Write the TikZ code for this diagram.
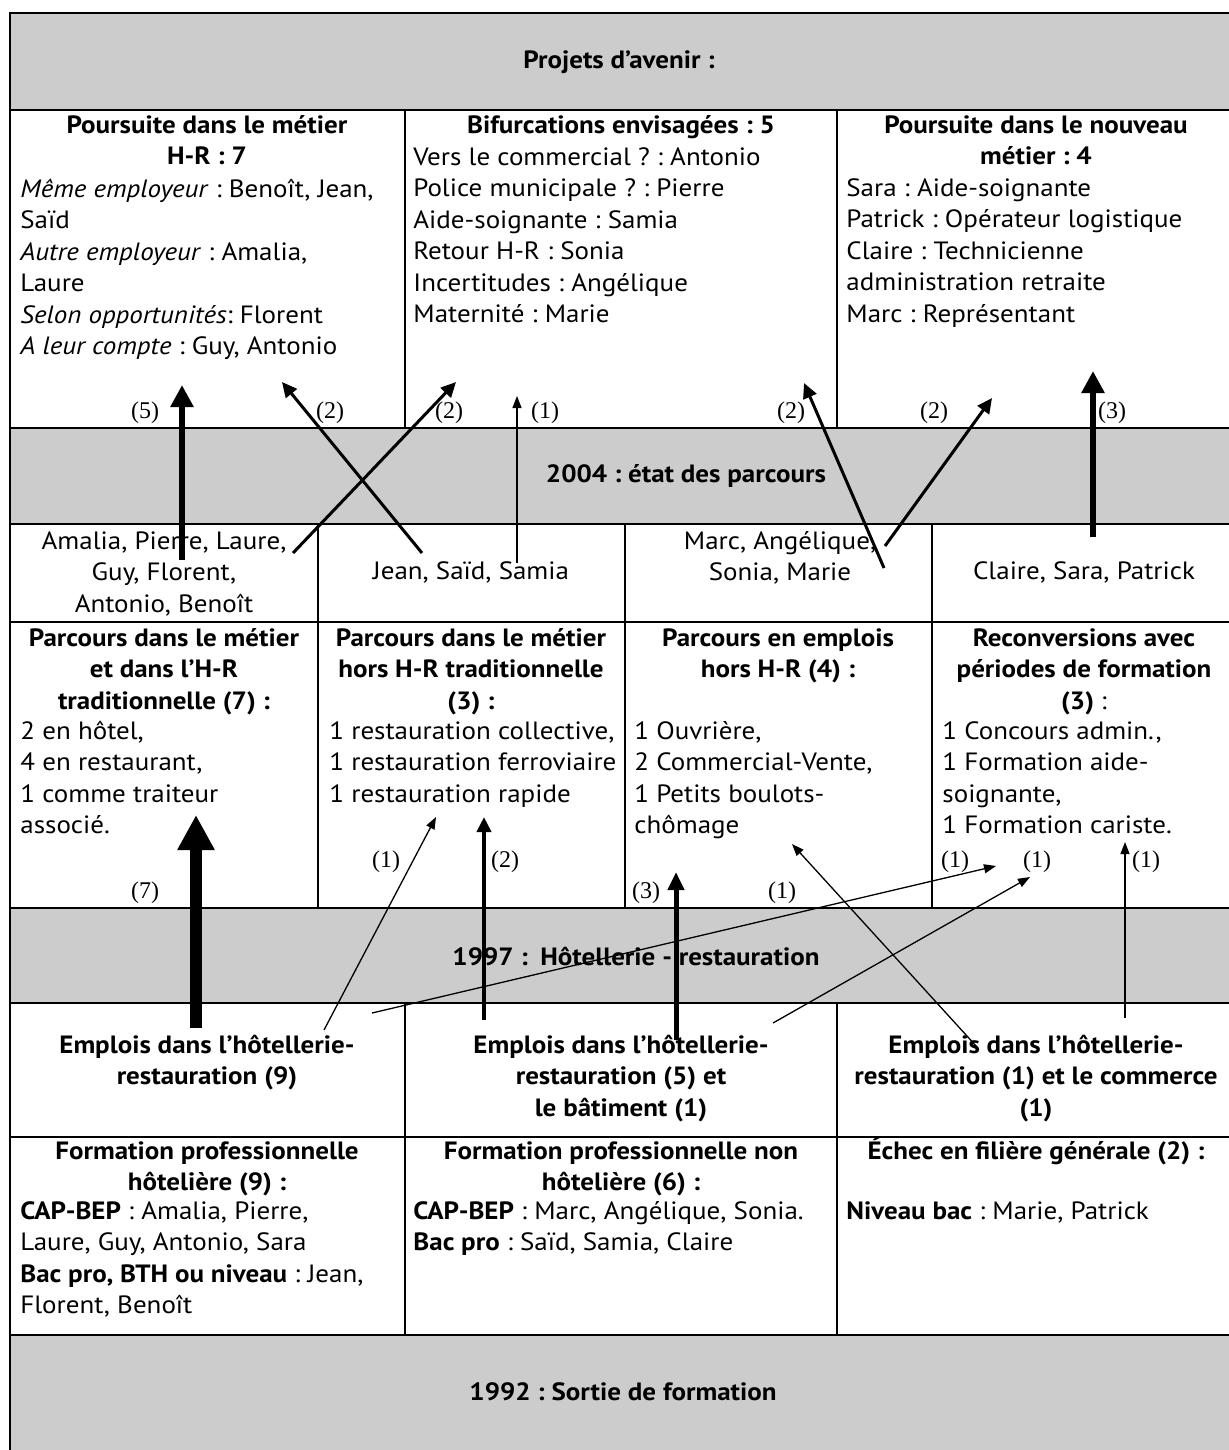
\documentclass[tikz,border=0pt]{standalone}
\usepackage{fontspec}
\setmainfont{PT Sans}[FakeStretch=1.08]
\newfontfamily\countfont{Liberation Serif}
\usepackage{tikz}
\usetikzlibrary{arrows.meta}
\definecolor{bandgray}{HTML}{CCCCCC}
\frenchspacing

\begin{document}
\begin{tikzpicture}[x=0.5pt, y=-0.5pt,
            every node/.style={inner sep=0pt, font=\fontsize{12.5}{15.75}\selectfont},
            band/.style={fill=bandgray},
            grid/.style={line width=1pt},
            bandtitle/.style={font=\fontsize{12.5}{15.75}\selectfont\bfseries},
            cellhead/.style={anchor=north, align=center, font=\fontsize{12.5}{15.75}\selectfont\bfseries},
            cellbody/.style={anchor=north west, align=left},
            names/.style={anchor=north, align=center},
            count/.style={font=\fontsize{12}{14}\selectfont\countfont},
            flowthin/.style={line width=0.65pt, -{Triangle[length=6pt, width=4.5pt]}},
            flowmid/.style={line width=1.5pt, -{Triangle[length=7.5pt, width=7pt]}},
            flowthick/.style={line width=2.5pt, -{Triangle[length=9pt, width=8pt]}},
            flowbold/.style={line width=3.25pt, -{Triangle[length=11pt, width=11pt]}},
            flowheavy/.style={line width=6pt, -{Triangle[length=17.5pt, width=17.5pt]}}]
            \useasboundingbox (0,0) rectangle (1228,1450);

            \fill[band] (10,13) rectangle (1236,110);
            \fill[band] (10,428) rectangle (1236,524);
            \fill[band] (10,908) rectangle (1236,1003);
            \fill[band] (10,1335) rectangle (1236,1460);

            \draw[grid] (10,1460) -- (10,13) -- (1236,13) -- (1236,1460);
            \foreach \y in {110,428,524,622,908,1003,1137,1335}
                \draw[grid] (10,\y) -- (1236,\y);
            \foreach \x in {405,837}
                \draw[grid] (\x,110) -- (\x,428);
            \foreach \x in {318,625,932}
                \draw[grid] (\x,524) -- (\x,908);
            \foreach \x in {405,837}
                \draw[grid] (\x,1003) -- (\x,1335);

            \node[bandtitle] (avenir) at (619,62) {Projets d’avenir :};
            \node[bandtitle] (y2004) at (686,476) {2004 : état des parcours};
            \node[bandtitle] (y1997) at (636,957) {1997 :\enspace Hôtellerie - restauration};
            \node[bandtitle] (y1992) at (623,1392) {1992 : Sortie de formation};

            \node[cellhead] (hrhead) at (207,111) {\strut Poursuite dans le métier\\H-R : 7};
            \node[cellbody] (hrbody) at (20,175) {\strut\textit{Même employeur} : Benoît, Jean,\\Saïd\\\textit{Autre employeur} : Amalia,\\Laure\\\textit{Selon opportunités}: Florent\\\textit{A leur compte} : Guy, Antonio};
            \node[cellhead] (bifhead) at (621,111) {\strut Bifurcations envisagées : 5};
            \node[cellbody] (bifbody) at (413,143) {\strut Vers le commercial ? : Antonio\\Police municipale ? : Pierre\\Aide-soignante : Samia\\Retour H-R : Sonia\\Incertitudes : Angélique\\Maternité : Marie};
            \node[cellhead] (newhead) at (1036,111) {\strut Poursuite dans le nouveau\\métier : 4};
            \node[cellbody] (newbody) at (846,174) {\strut Sara : Aide-soignante\\Patrick : Opérateur logistique\\Claire : Technicienne\\administration retraite\\Marc : Représentant};

            \node[names] (grpa) at (164,527) {\strut Amalia, Pierre, Laure,\\Guy, Florent,\\Antonio, Benoît};
            \node[names] (grpb) at (471,557) {\strut Jean, Saïd, Samia};
            \node[names] (grpc) at (780,527) {\strut Marc, Angélique,\\Sonia, Marie};
            \node[names] (grpd) at (1084,557) {\strut Claire, Sara, Patrick};

            \node[cellhead] (trhead) at (164,624) {\strut Parcours dans le métier\\et dans l’H-R\\traditionnelle (7) :};
            \node[cellbody] (trbody) at (20,717) {\strut 2 en hôtel,\\4 en restaurant,\\1 comme traiteur\\associé.};
            \node[cellhead] (horshead) at (471,624) {\strut Parcours dans le métier\\hors H-R traditionnelle\\(3) :};
            \node[cellbody] (horsbody) at (329,717) {\strut 1 restauration collective,\\1 restauration ferroviaire\\1 restauration rapide};
            \node[cellhead] (emphead) at (778,624) {\strut Parcours en emplois\\hors H-R (4) :};
            \node[cellbody] (empbody) at (634,717) {\strut 1 Ouvrière,\\2 Commercial-Vente,\\1 Petits boulots-\\chômage};
            \node[cellhead] (rechead) at (1084,624) {\strut Reconversions avec\\périodes de formation\\(3) {\mdseries :}};
            \node[cellbody] (recbody) at (942,717) {\strut 1 Concours admin.,\\1 Formation aide-\\soignante,\\1 Formation cariste.};

            \node[cellhead] (hrjobs) at (207,1031) {\strut Emplois dans l’hôtellerie-\\restauration (9)};
            \node[cellhead] (mixjobs) at (621,1031) {\strut Emplois dans l’hôtellerie-\\restauration (5) et\\le bâtiment (1)};
            \node[cellhead] (comjobs) at (1036,1031) {\strut Emplois dans l’hôtellerie-\\restauration (1) et le commerce\\(1)};

            \node[cellhead] (hotform) at (207,1137) {\strut Formation professionnelle\\hôtelière (9) :};
            \node[cellbody] (hotbody) at (20,1197) {\strut\textbf{CAP-BEP} : Amalia, Pierre,\\Laure, Guy, Antonio, Sara\\\textbf{Bac pro, BTH ou niveau} : Jean,\\Florent, Benoît};
            \node[cellhead] (nonform) at (621,1137) {\strut Formation professionnelle non\\hôtelière (6) :};
            \node[cellbody] (nonbody) at (413,1197) {\strut\textbf{CAP-BEP} : Marc, Angélique, Sonia.\\\textbf{Bac pro} : Saïd, Samia, Claire};
            \node[cellhead] (genform) at (1036,1137) {\strut Échec en filière générale (2) :};
            \node[cellbody] (genbody) at (846,1197) {\strut\textbf{Niveau bac} : Marie, Patrick};

            \node[count] (n5) at (145,413) {(5)};
            \node[count] (n2a) at (330,413) {(2)};
            \node[count] (n2b) at (449,413) {(2)};
            \node[count] (n1a) at (545,413) {(1)};
            \node[count] (n2c) at (791,413) {(2)};
            \node[count] (n2d) at (934,413) {(2)};
            \node[count] (n3a) at (1112,413) {(3)};
            \node[count] (n7) at (145,893) {(7)};
            \node[count] (n1b) at (386,862) {(1)};
            \node[count] (n2e) at (505,862) {(2)};
            \node[count] (n3b) at (646,893) {(3)};
            \node[count] (n1c) at (782,893) {(1)};
            \node[count] (n1d) at (955,862) {(1)};
            \node[count] (n1e) at (1037,862) {(1)};
            \node[count] (n1f) at (1146,862) {(1)};

            \coordinate (grpa1) at (182,560);
            \coordinate (grpa2) at (293,553);
            \coordinate (grpb1) at (422,553);
            \coordinate (grpb2) at (517,563);
            \coordinate (grpc1) at (884,568);
            \coordinate (grpc2) at (885,546);
            \coordinate (grpd1) at (1093,537);
            \coordinate (hrA) at (182,385);
            \coordinate (hrB) at (282,382);
            \coordinate (bifA) at (456,382);
            \coordinate (bifB) at (517,396);
            \coordinate (bifC) at (804,383);
            \coordinate (newA) at (992,398);
            \coordinate (newB) at (1093,371);

            \coordinate (hrjobs1) at (196,1028);
            \coordinate (hrjobs2) at (324,1030);
            \coordinate (hrjobs3) at (372,1013);
            \coordinate (mixjobs1) at (484,1020);
            \coordinate (mixjobs2) at (676,1040);
            \coordinate (mixjobs3) at (773,1023);
            \coordinate (comjobs1) at (977,1047);
            \coordinate (comjobs2) at (1125,1018);
            \coordinate (trA) at (196,815);
            \coordinate (horsA) at (436,817);
            \coordinate (horsB) at (484,817);
            \coordinate (empA) at (676,872);
            \coordinate (empB) at (792,844);
            \coordinate (recA) at (996,866);
            \coordinate (recB) at (1030,877);
            \coordinate (recC) at (1125,842);

            \draw[flowbold] (grpa1) -- (hrA);
            \draw[flowmid] (grpb1) -- (hrB);
            \draw[flowmid] (grpa2) -- (bifA);
            \draw[flowthin] (grpb2) -- (bifB);
            \draw[flowmid] (grpc1) -- (bifC);
            \draw[flowmid] (grpc2) -- (newA);
            \draw[flowbold] (grpd1) -- (newB);

            \draw[flowheavy] (hrjobs1) -- (trA);
            \draw[flowthin] (hrjobs2) -- (horsA);
            \draw[flowthin] (hrjobs3) -- (recA);
            \draw[flowmid, line width=2pt] (mixjobs1) -- (horsB);
            \draw[flowthick] (mixjobs2) -- (empA);
            \draw[flowthin] (mixjobs3) -- (recB);
            \draw[flowthin] (comjobs1) -- (empB);
            \draw[flowthin] (comjobs2) -- (recC);
        \end{tikzpicture}
\end{document}
